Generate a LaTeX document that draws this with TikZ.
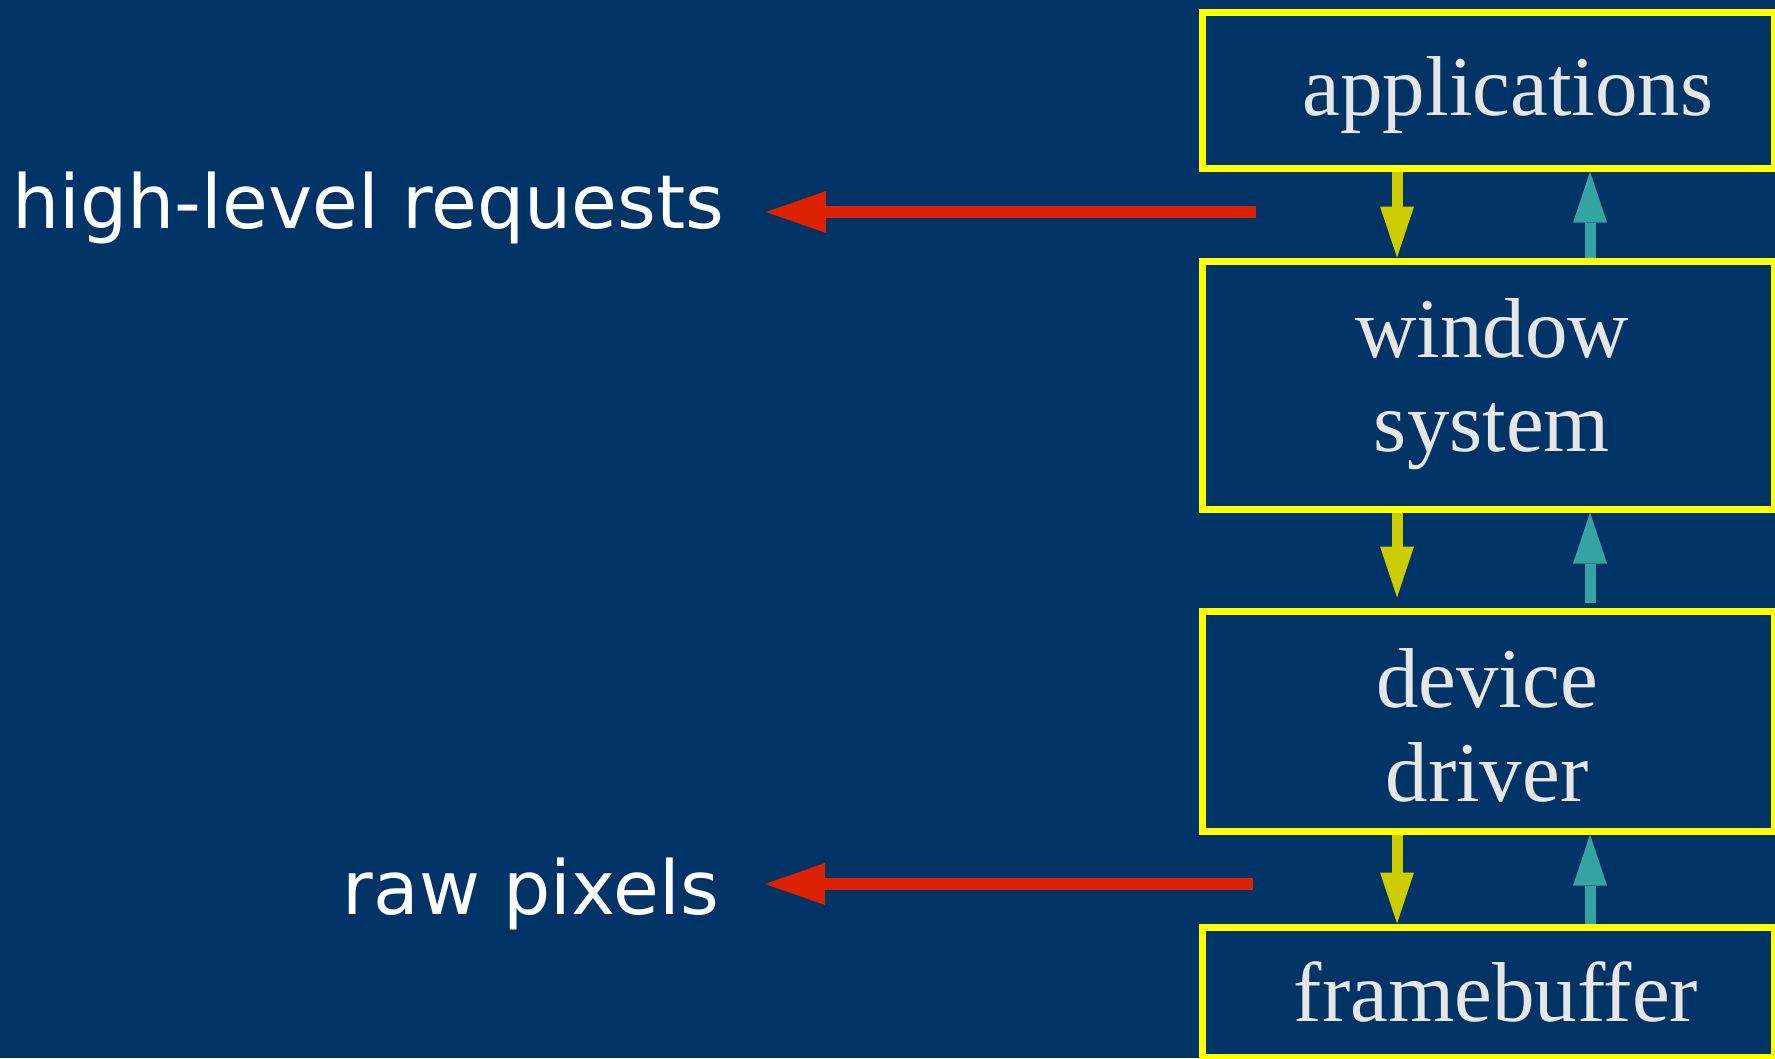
\documentclass[tikz,border=0pt]{standalone}
\usepackage{fontspec}
\usetikzlibrary{arrows.meta}
\newfontfamily\boxserif{Liberation Serif}
\newfontfamily\sidesans{DejaVu Sans}
\definecolor{bgblue}{HTML}{003366}
\definecolor{boxyellow}{HTML}{FFFF00}
\definecolor{downcol}{HTML}{CCCC00}
\definecolor{upcol}{HTML}{36A3A3}
\definecolor{outred}{HTML}{DD2200}
\definecolor{labelgray}{HTML}{E6E6E6}
\tikzset{
  layer/.style={draw=boxyellow, line width=7pt, inner sep=0pt, minimum width=572pt},
  boxlabel/.style={text=labelgray, inner sep=0pt, anchor=base,
    font=\boxserif\fontsize{85}{94}\selectfont},
  sidelabel/.style={text=white, inner sep=0pt,
    font=\sidesans\fontsize{74.5}{88}\selectfont},
  downflow/.style={draw=downcol, line width=11pt,
    -{Triangle[length=51pt,width=34pt,line width=0pt]}},
  upflow/.style={draw=upcol, line width=11pt,
    -{Triangle[length=51pt,width=34pt,line width=0pt]}},
  outflow/.style={draw=outred, line width=12pt,
    -{Triangle[length=60pt,width=42pt,line width=0pt]}},
}
\begin{document}
\begin{tikzpicture}[x=1pt,y=-1pt]
  % page and background
  \fill[bgblue] (0,0) rectangle (1775,1058);
  \useasboundingbox (0,0) rectangle (1775,1058);
  \clip (0,0) rectangle (1775,1058);

  % layer boxes
  \node[layer, minimum height=156pt] (app) at (1488,90)  {};
  \node[layer, minimum height=248pt] (win) at (1488,385) {};
  \node[layer, minimum height=220pt] (drv) at (1488,721) {};
  \node[layer, minimum height=130pt] (fb)  at (1488,992) {};

  % box labels
  \node[boxlabel] (appt) at (1508,115) {applications};
  \node[boxlabel] (wint) at (1492,357) {\begin{tabular}[t]{@{}c@{}}window\\system\end{tabular}};
  \node[boxlabel] (drvt) at (1487,707) {\begin{tabular}[t]{@{}c@{}}device\\driver\end{tabular}};
  \node[boxlabel] (fbt)  at (1496,1021) {framebuffer};

  % columns of the vertical flows
  \coordinate (dcol) at (1397,0);
  \coordinate (ucol) at (1590,0);

  % downward flows
  \draw[downflow] (app.south -| dcol) -- (win.north -| dcol);
  \draw[downflow, shorten >=10pt] (win.south -| dcol) -- (drv.north -| dcol);
  \draw[downflow] (drv.south -| dcol) -- (fb.north -| dcol);

  % upward flows
  \draw[upflow] (win.north -| ucol) -- (app.south -| ucol);
  \draw[upflow, shorten <=5pt] (drv.north -| ucol) -- (win.south -| ucol);
  \draw[upflow] (fb.north -| ucol) -- (drv.south -| ucol);

  % side labels and outgoing arrows
  \node[sidelabel, anchor=base west] (req) at (12,228) {high-level requests};
  \node[sidelabel, anchor=base east] (pix) at (719,914) {raw pixels};
  \coordinate (reqfrom) at (1256,212);
  \coordinate (reqto)   at (766,212);
  \coordinate (pixfrom) at (1253,884);
  \coordinate (pixto)   at (765,884);
  \draw[outflow] (reqfrom) -- (reqto);
  \draw[outflow] (pixfrom) -- (pixto);
\end{tikzpicture}
\end{document}
